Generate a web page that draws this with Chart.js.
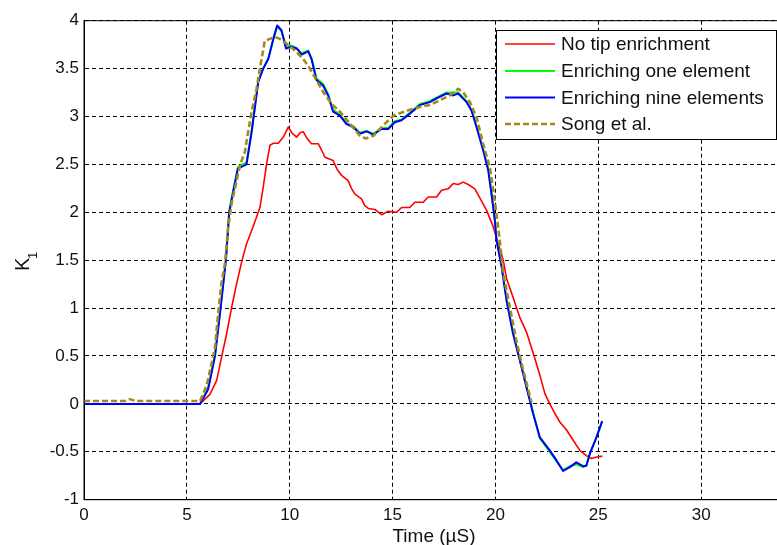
<!DOCTYPE html>
<html>
<head>
<meta charset="utf-8">
<title>K1 vs time</title>
<script src="https://cdn.jsdelivr.net/npm/chart.js@4.4.1/dist/chart.umd.min.js"></script>
<style>
    html, body { margin: 0; padding: 0; background: #fff; overflow: hidden; }
    #wrap { position: relative; width: 820px; height: 545px; }
</style>
</head>
<body>
<div id="wrap"><canvas id="chart-k1"></canvas></div>
<script>
// series labels and colours
const SERIES = ['No tip enrichment', 'Enriching one element', 'Enriching nine elements', 'Song et al.'];
const COLORS = ['#ff0000', '#00ff00', '#0000ff', '#a38a1b'];

// axis ticks
const X_TICKS = [0, 5, 10, 15, 20, 25, 30, 35];
const Y_TICKS = [-1, -0.5, 0, 0.5, 1, 1.5, 2, 2.5, 3, 3.5, 4];

// no tip enrichment
const tNoTip = [0, 5.64, 6.12, 6.45, 6.69, 6.93, 7.18, 7.42, 7.66, 7.9, 8.15, 8.39, 8.55, 8.71, 8.88, 9.04, 9.2, 9.44, 9.69, 9.93,
    10.1, 10.34, 10.5, 10.66, 10.85, 11.06, 11.39, 11.55, 11.71, 12.11, 12.3, 12.52, 12.84, 13.0, 13.17, 13.49, 13.65, 13.82,
    14.14, 14.46, 14.79, 15.19, 15.44, 15.84, 16.08, 16.49, 16.73, 17.14, 17.38, 17.7, 17.95, 18.19, 18.43, 18.68, 19.0,
    19.32, 19.57, 19.89, 20.13, 20.38, 20.54, 20.86, 21.19, 21.51, 21.91, 22.16, 22.4, 22.64, 22.89, 23.13, 23.45, 23.78,
    24.1, 24.42, 24.67, 24.91, 25.2];
const kNoTip = [0, 0, 0.1, 0.245, 0.49, 0.73, 1.01, 1.255, 1.48, 1.67, 1.81, 1.95, 2.05, 2.26, 2.51, 2.7, 2.72, 2.72, 2.785, 2.89,
    2.83, 2.785, 2.83, 2.84, 2.77, 2.715, 2.715, 2.65, 2.575, 2.54, 2.45, 2.385, 2.33, 2.25, 2.19, 2.14, 2.07, 2.04,
    2.03, 1.975, 2.01, 2.0, 2.05, 2.05, 2.105, 2.105, 2.16, 2.16, 2.23, 2.245, 2.3, 2.29, 2.315, 2.29, 2.245,
    2.12, 2.02, 1.85, 1.68, 1.5, 1.31, 1.11, 0.9, 0.75, 0.48, 0.3, 0.11, 0.0, -0.1, -0.19, -0.27, -0.38,
    -0.485, -0.54, -0.57, -0.555, -0.545];

// enriching one element
const tOne = [0, 5.64, 6.03, 6.37, 6.64, 6.9, 7.06, 7.25, 7.48, 7.7, 7.9, 8.15, 8.47, 8.71, 8.96, 9.2, 9.39, 9.6, 9.82,
    10.09, 10.34, 10.58, 10.9, 11.06, 11.3, 11.63, 11.87, 12.11, 12.44, 12.76, 13.09, 13.41, 13.74, 14.06, 14.46, 14.79,
    15.11, 15.44, 15.84, 16.33, 16.81, 17.14, 17.62, 17.95, 18.19, 18.6, 18.84, 19.08, 19.4, 19.65, 19.81, 19.97, 20.05,
    20.3, 20.54, 20.86, 21.19, 21.51, 21.83, 22.16, 22.64, 22.97, 23.29, 23.62, 23.93, 24.26, 24.42, 24.59, 24.91, 25.19];
const kOne = [0, 0, 0.16, 0.52, 1.02, 1.52, 2.02, 2.23, 2.47, 2.5, 2.52, 2.85, 3.37, 3.5, 3.61, 3.8, 3.94, 3.89, 3.74,
    3.74, 3.71, 3.66, 3.69, 3.61, 3.4, 3.34, 3.23, 3.07, 3.02, 2.93, 2.9, 2.83, 2.85, 2.82, 2.88, 2.88,
    2.95, 2.97, 3.04, 3.13, 3.16, 3.2, 3.25, 3.25, 3.25, 3.16, 3.07, 2.9, 2.66, 2.45, 2.2, 1.93, 1.72,
    1.44, 1.09, 0.74, 0.46, 0.18, -0.09, -0.36, -0.5, -0.6, -0.69, -0.65, -0.63, -0.66, -0.64, -0.52, -0.35, -0.18];

// enriching nine elements
const tNine = [0, 5.64, 6.03, 6.37, 6.64, 6.9, 7.06, 7.25, 7.48, 7.7, 7.9, 8.15, 8.47, 8.71, 8.96, 9.2, 9.39, 9.6, 9.82,
    10.09, 10.34, 10.58, 10.9, 11.06, 11.3, 11.63, 11.87, 12.11, 12.44, 12.76, 13.09, 13.41, 13.74, 14.06, 14.46, 14.79,
    15.11, 15.44, 15.84, 16.33, 16.81, 17.14, 17.62, 17.95, 18.19, 18.6, 18.84, 19.08, 19.4, 19.65, 19.81, 19.97, 20.05,
    20.3, 20.54, 20.86, 21.19, 21.51, 21.83, 22.16, 22.64, 22.97, 23.29, 23.62, 23.93, 24.26, 24.42, 24.59, 24.91, 25.19];
const kNine = [0, 0, 0.15, 0.5, 1.0, 1.5, 2.0, 2.21, 2.455, 2.48, 2.5, 2.84, 3.36, 3.5, 3.6, 3.81, 3.95, 3.9, 3.71,
    3.73, 3.71, 3.645, 3.68, 3.6, 3.38, 3.32, 3.22, 3.05, 3.01, 2.92, 2.89, 2.82, 2.845, 2.81, 2.87, 2.87,
    2.94, 2.96, 3.03, 3.12, 3.15, 3.19, 3.24, 3.22, 3.24, 3.15, 3.06, 2.89, 2.65, 2.44, 2.19, 1.92, 1.71,
    1.43, 1.08, 0.73, 0.45, 0.175, -0.1, -0.35, -0.485, -0.59, -0.7, -0.66, -0.61, -0.65, -0.645, -0.52, -0.35, -0.18];

// Song et al.
const tSong = [0, 2.0, 2.24, 2.5, 5.64, 5.96, 6.2, 6.37, 6.53, 6.69, 6.85, 7.01, 7.18, 7.34, 7.58, 7.82, 7.98, 8.15, 8.39,
    8.55, 8.79, 9.04, 9.28, 9.52, 9.85, 10.25, 10.66, 10.98, 11.3, 11.63, 12.04, 12.44, 12.93, 13.41, 13.7, 14.08, 14.56,
    15.05, 15.68, 16.33, 16.81, 17.3, 17.78, 18.19, 18.43, 18.76, 19.08, 19.4, 19.73, 19.97, 20.21, 20.38, 20.7, 21.02,
    21.35, 21.75];
const kSong = [0.03, 0.03, 0.05, 0.03, 0.03, 0.19, 0.42, 0.59, 0.96, 1.27, 1.46, 1.845, 2.1, 2.25, 2.49, 2.63, 2.84, 3.05, 3.29,
    3.5, 3.79, 3.81, 3.83, 3.81, 3.76, 3.69, 3.6, 3.5, 3.38, 3.255, 3.13, 3.05, 2.925, 2.8, 2.77, 2.8, 2.91,
    3.01, 3.06, 3.1, 3.12, 3.17, 3.22, 3.29, 3.255, 3.15, 2.995, 2.715, 2.47, 2.12, 1.71, 1.36, 1.01, 0.66,
    0.35, 0.02];

const FONT = '"Liberation Sans", Arial, sans-serif';

const toPoints = (xs, ys) => xs.map((x, i) => ({x: x, y: ys[i]}));

// box on top, axis titles and the legend drawn inside the plot
const decorations = {
    id: 'decorations',
    afterDraw(chart) {
        const ctx = chart.ctx;
        const a = chart.chartArea;
        ctx.save();

        ctx.strokeStyle = '#000';
        ctx.lineWidth = 1;
        ctx.strokeRect(a.left, a.top, a.right - a.left, a.bottom - a.top);

        ctx.fillStyle = '#111';
        ctx.font = `19px ${FONT}`;
        ctx.textAlign = 'center';
        ctx.textBaseline = 'alphabetic';
        ctx.fillText('Time (\u00b5S)', 434, 542);

        ctx.save();
        ctx.translate(21, 262);
        ctx.rotate(-Math.PI / 2);
        ctx.textAlign = 'left';
        ctx.font = `20px ${FONT}`;
        ctx.fillText('K', -9, 8);
        ctx.font = `13px ${FONT}`;
        ctx.fillText('1', 3, 16);
        ctx.restore();

        const lx = 496, ly = 30, lw = 280, lh = 109;
        ctx.fillStyle = '#fff';
        ctx.fillRect(lx, ly, lw, lh);
        ctx.strokeStyle = '#000';
        ctx.strokeRect(lx + 0.5, ly + 0.5, lw, lh);

        ctx.font = `19px ${FONT}`;
        ctx.textAlign = 'left';
        ctx.textBaseline = 'middle';
        const rows = [44, 71, 97.5, 124];
        SERIES.forEach((name, i) => {
            const ds = chart.data.datasets[i];
            ctx.strokeStyle = ds.borderColor;
            ctx.lineWidth = ds.borderWidth;
            ctx.setLineDash(ds.borderDash || []);
            ctx.beginPath();
            ctx.moveTo(505, rows[i]);
            ctx.lineTo(555, rows[i]);
            ctx.stroke();
            ctx.setLineDash([]);
            ctx.fillStyle = '#111';
            ctx.fillText(name, 561, rows[i] + 1);
        });
        ctx.restore();
    }
};

const ctxK = document.getElementById('chart-k1');
new Chart(ctxK, {
    type: 'line',
    data: {
        datasets: [
            { label: SERIES[0], data: toPoints(tNoTip, kNoTip), borderColor: COLORS[0], borderWidth: 1.6, order: 3 },
            { label: SERIES[1], data: toPoints(tOne, kOne), borderColor: COLORS[1], borderWidth: 2, order: 2 },
            { label: SERIES[2], data: toPoints(tNine, kNine), borderColor: COLORS[2], borderWidth: 2, order: 1 },
            { label: SERIES[3], data: toPoints(tSong, kSong), borderColor: COLORS[3], borderWidth: 2.6, borderDash: [6, 3], order: 0 }
        ]
    },
    options: {
        responsive: true,
        maintainAspectRatio: false,
        animation: false,
        devicePixelRatio: 1,
        layout: { padding: { top: 20.7, right: 16, left: 0, bottom: 0 } },
        elements: { point: { radius: 0 }, line: { tension: 0, fill: false, borderJoinStyle: 'round' } },
        plugins: { legend: { display: false }, tooltip: { enabled: false } },
        scales: {
            x: {
                type: 'linear',
                min: X_TICKS[0],
                max: X_TICKS[X_TICKS.length - 1],
                afterBuildTicks: s => { s.ticks = X_TICKS.map(v => ({value: v})); },
                afterFit: s => { s.height = 45.3; },
                ticks: { color: '#111', padding: 5, font: { family: FONT, size: 17 }, maxRotation: 0, callback: v => String(v) },
                grid: { color: '#000', lineWidth: 1, drawTicks: false },
                border: { display: true, color: '#000', width: 1, dash: [4, 3] }
            },
            y: {
                type: 'linear',
                min: Y_TICKS[0],
                max: Y_TICKS[Y_TICKS.length - 1],
                afterBuildTicks: s => { s.ticks = Y_TICKS.map(v => ({value: v})); },
                afterFit: s => { s.width = 84; },
                ticks: { color: '#111', padding: 5, font: { family: FONT, size: 17 }, callback: v => String(v) },
                grid: { color: '#000', lineWidth: 1, drawTicks: false },
                border: { display: true, color: '#000', width: 1, dash: [4, 3] }
            }
        }
    },
    plugins: [decorations]
});
</script>
</body>
</html>
